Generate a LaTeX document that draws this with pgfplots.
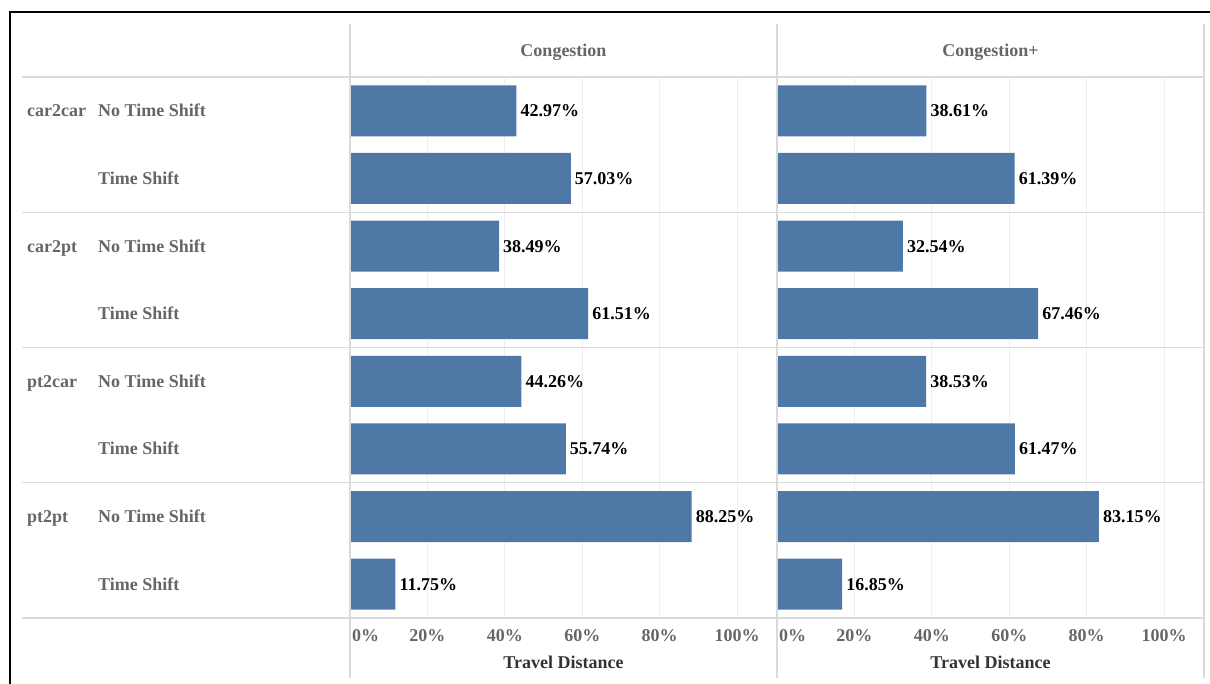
\documentclass[border=0pt]{standalone}
\usepackage{fontspec}
\setmainfont{Liberation Serif}
\usepackage{pgfplots}
\pgfplotsset{compat=1.18}
\definecolor{barblue}{HTML}{4E79A7}
\definecolor{lbl}{HTML}{666666}
\definecolor{ttl}{HTML}{333333}
\definecolor{sep}{HTML}{DADADA}
\definecolor{grd}{HTML}{EFEFEF}
\newcommand{\ff}{\fontsize{18}{20}\selectfont\bfseries}
\tikzset{rowlbl/.style={font=\ff, text=lbl, anchor=base west, inner sep=0pt, yshift=-6pt}}
\pgfplotsset{
  panel/.style={
    scale only axis, width=427pt, height=541pt,
    xmin=0, xmax=110.3, ymin=-0.5, ymax=7.5, y dir=reverse,
    xbar, bar width=51pt,
    axis line style={draw=none},
    major tick length=0pt,
    ytick=\empty,
    xtick={20,40,60,80,100},
    xticklabels={20\%,40\%,60\%,80\%,100\%},
    extra x ticks={0}, extra x tick labels={0\%},
    extra x tick style={xticklabel style={anchor=base west, xshift=2pt}},
    xmajorgrids, grid style={grd, line width=1pt},
    tick label style={font=\ff, text=lbl, inner sep=0pt},
    xticklabel style={anchor=base, yshift=-23pt},
    /pgf/number format/assume math mode=true,
    nodes near coords={\pgfmathprintnumber[fixed,fixed zerofill,precision=2]{\pgfplotspointmeta}\%},
    every node near coord/.append style={font=\ff, text=black, anchor=base west, inner sep=0pt, xshift=4pt, yshift=-6pt},
    xlabel={Travel Distance},
    xlabel style={font=\ff, text=ttl, at={(axis description cs:0.5,0)}, anchor=base, yshift=-50pt, inner sep=0pt},
    clip=false,
  },
}
\pgfplotstableread{
r v
0 42.97
1 57.03
2 38.49
3 61.51
4 44.26
5 55.74
6 88.25
7 11.75
}\congA
\pgfplotstableread{
r v
0 38.61
1 61.39
2 32.54
3 67.46
4 38.53
5 61.47
6 83.15
7 16.85
}\congB
\begin{document}
\begin{tikzpicture}[x=1pt,y=1pt]
\useasboundingbox (0pt,0pt) rectangle (1210pt,684pt);
\begin{axis}[panel, at={(350pt,66pt)}, anchor=south west]
  \addplot[fill=barblue, draw=none] table[x=v, y=r] {\congA};
  \node[font=\ff, text=lbl, anchor=base] at (axis description cs:0.5,1) [yshift=21pt] {Congestion};
  \node[rowlbl, xshift=-323pt] at (axis cs:0,0) {car2car};
  \node[rowlbl, xshift=-323pt] at (axis cs:0,2) {car2pt};
  \node[rowlbl, xshift=-323pt] at (axis cs:0,4) {pt2car};
  \node[rowlbl, xshift=-323pt] at (axis cs:0,6) {pt2pt};
  \node[rowlbl, xshift=-252pt] at (axis cs:0,0) {No Time Shift};
  \node[rowlbl, xshift=-252pt] at (axis cs:0,2) {No Time Shift};
  \node[rowlbl, xshift=-252pt] at (axis cs:0,4) {No Time Shift};
  \node[rowlbl, xshift=-252pt] at (axis cs:0,6) {No Time Shift};
  \node[rowlbl, xshift=-252pt] at (axis cs:0,1) {Time Shift};
  \node[rowlbl, xshift=-252pt] at (axis cs:0,3) {Time Shift};
  \node[rowlbl, xshift=-252pt] at (axis cs:0,5) {Time Shift};
  \node[rowlbl, xshift=-252pt] at (axis cs:0,7) {Time Shift};
\end{axis}
\begin{axis}[panel, at={(777pt,66pt)}, anchor=south west]
  \addplot[fill=barblue, draw=none] table[x=v, y=r] {\congB};
  \node[font=\ff, text=lbl, anchor=base] at (axis description cs:0.5,1) [yshift=21pt] {Congestion+};
\end{axis}
% separators
\foreach \yp in {77, 212.25, 347.5, 482.75, 618} {
  \draw[sep, line width=1.2pt] (22pt,684pt-\yp pt) -- (1204pt,684pt-\yp pt);
}
\foreach \xp in {350, 777, 1204} {
  \draw[sep, line width=1.2pt] (\xp pt,660pt) -- (\xp pt,6pt);
}
% outer border
\draw[black, line width=2pt] (10pt,0pt) -- (10pt,672pt) -- (1210pt,672pt);
\end{tikzpicture}
\end{document}
